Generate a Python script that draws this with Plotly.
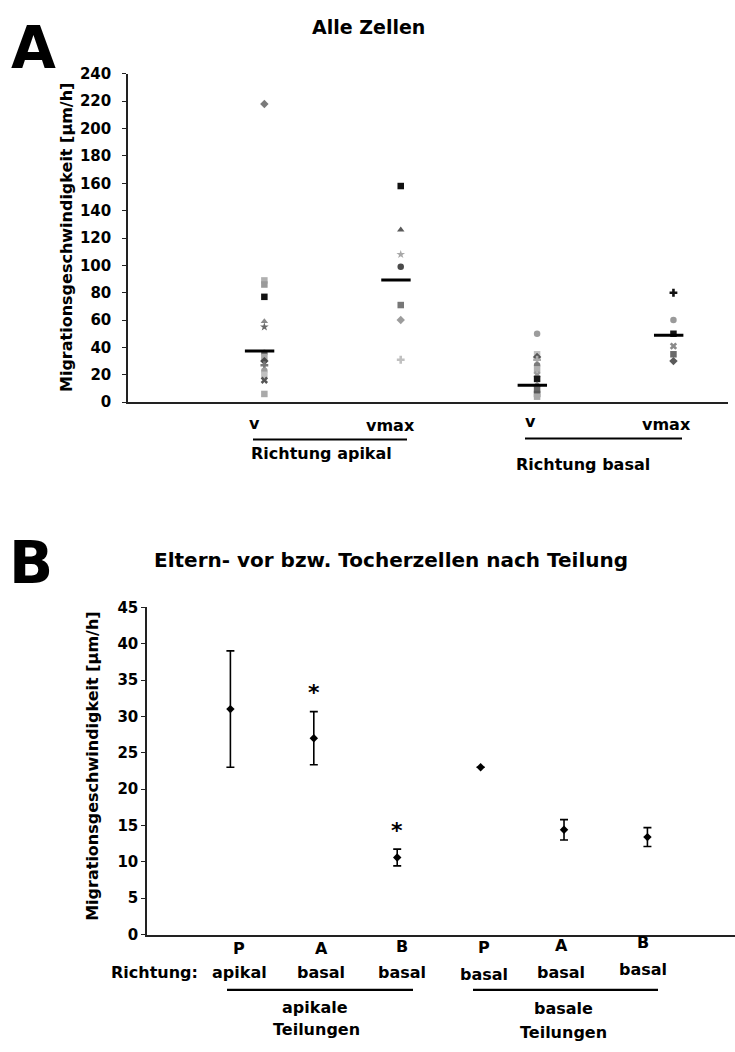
import plotly.graph_objects as go

# ---------------- data ----------------
# Panel A: "Alle Zellen"
a_groups = ["v apikal", "vmax apikal", "v basal", "vmax basal"]
a_v_apikal = [218, 89, 86, 77, 59, 55, 36, 33, 30, 27, 23, 20, 16, 6]
a_vmax_apikal = [158, 126, 108, 99, 71, 60, 31]
a_v_basal = [50, 35, 33, 31, 27, 24, 20, 17, 12, 9, 6, 4]
a_vmax_basal = [80, 60, 50, 41, 35, 30]
a_means = [37.4, 89.3, 12.4, 48.9]
a_ticks = [0, 20, 40, 60, 80, 100, 120, 140, 160, 180, 200, 220, 240]

# Panel B: "Eltern- vor bzw. Tocherzellen nach Teilung"
b_cells = ["P", "A", "B", "P", "A", "B"]
b_dirs = ["apikal", "basal", "basal", "basal", "basal", "basal"]
b_means = [31.0, 27.0, 10.6, 23.0, 14.4, 13.4]
b_err = [8.0, 3.65, 1.15, None, 1.4, 1.3]
b_signif = [False, True, True, False, False, False]
b_ticks = [0, 5, 10, 15, 20, 25, 30, 35, 40, 45]

# ---------------- styling ----------------
W, H = 735, 1052
FONT = "DejaVu Sans"


def px(x):
    return x / W


def py(y):
    return 1 - y / H


sym_cycle = ["diamond", "square", "square", "square", "triangle-up", "star",
             "circle", "square", "diamond", "cross", "circle", "square", "x", "square"]
col_cycle = ["#7a7a7a", "#b0b0b0", "#9a9a9a", "#151515", "#8a8a8a", "#6a6a6a",
             "#5a5a5a", "#a8a8a8", "#4a4a4a", "#777777", "#9c9c9c", "#c0c0c0", "#555555", "#aaaaaa"]

fig = go.Figure()

a_series = [a_v_apikal, a_vmax_apikal, a_v_basal, a_vmax_basal]
for gi, vals in enumerate(a_series):
    n = len(vals)
    fig.add_trace(go.Scatter(
        x=[gi + 1] * n, y=vals, mode="markers",
        marker=dict(symbol=[sym_cycle[(i + gi * 3) % len(sym_cycle)] for i in range(n)],
                    color=[col_cycle[(i + gi * 5) % len(col_cycle)] if vals[i] not in (77, 80, 158) else "#111111"
                           for i in range(n)],
                    size=6.5, line=dict(width=0)),
        xaxis="x", yaxis="y", showlegend=False, cliponaxis=False,
    ))

# mean dashes
fig.add_trace(go.Scatter(
    x=[i + 1 - 0.035 for i in range(len(a_means))], y=a_means, mode="markers",
    marker=dict(symbol="line-ew", size=21, line=dict(width=3, color="black")),
    xaxis="x", yaxis="y", showlegend=False,
))

# panel B points with error bars
b_x = list(range(1, len(b_means) + 1))
fig.add_trace(go.Scatter(
    x=b_x, y=b_means, mode="markers",
    marker=dict(symbol="diamond", size=6.5, color="black"),
    error_y=dict(type="data", symmetric=True,
                 array=[e if e is not None else float("nan") for e in b_err],
                 color="black", thickness=1.6, width=4),
    xaxis="x2", yaxis="y2", showlegend=False,
))

annotations = []
# significance stars
for i, s in enumerate(b_signif):
    if s:
        annotations.append(dict(x=b_x[i], y=b_means[i] + (b_err[i] or 0) + 2.6, xref="x2", yref="y2",
                                text="*", showarrow=False, yanchor="middle",
                                font=dict(family=FONT, size=22, color="black", weight="bold")))


def txt(x, y, t, size, **kw):
    d = dict(x=px(x), y=py(y), xref="paper", yref="paper", text=t, showarrow=False,
             xanchor="center", yanchor="middle",
             font=dict(family=FONT, size=size, color="black", weight="bold"))
    d.update(kw)
    annotations.append(d)


# panel letters & titles
txt(33, 40, "A", 58)
txt(368, 18, "Alle Zellen", 19)
txt(31, 564, "B", 58)
txt(391, 561, "Eltern- vor bzw. Tocherzellen nach Teilung", 20)

# axis titles
txt(66, 233, "Migrationsgeschwindigkeit [µm/h]", 16, textangle=-90)
txt(93, 771, "Migrationsgeschwindigkeit [µm/h]", 16, textangle=-90)

# panel A category labels
txt(254, 422, "v", 16)
txt(390, 424, "vmax", 16)
txt(530, 420, "v", 16)
txt(666, 423, "vmax", 16)
txt(321, 452, "Richtung apikal", 16)
txt(583, 463, "Richtung basal", 16)

# panel B category labels
b_lab_x = [239, 321, 402, 484, 561, 643]
b_lab_y1 = [956, 956, 954, 955, 953, 950]
b_lab_y2 = [980, 980, 980, 982, 980, 977]
for i in range(len(b_cells)):
    txt(b_lab_x[i], b_lab_y1[i], b_cells[i], 16)
    txt(b_lab_x[i], b_lab_y2[i], b_dirs[i], 16)
txt(154, 980, "Richtung:", 16)
txt(315, 1016, "apikale", 16)
txt(316, 1038, "Teilungen", 16)
txt(563, 1017, "basale", 16)
txt(563, 1041, "Teilungen", 16)

shapes = []
for (x0, x1, y) in [(253, 407, 438), (525, 682, 437), (227, 413, 998), (473, 658, 998)]:
    shapes.append(dict(type="line", xref="paper", yref="paper",
                       x0=px(x0), x1=px(x1), y0=py(y), y1=py(y),
                       line=dict(color="black", width=2.2)))

axis_common = dict(showgrid=False, zeroline=False, showline=True, linecolor="#222222", linewidth=1.5)

fig.update_layout(
    width=W, height=H, margin=dict(l=0, r=0, t=0, b=0),
    paper_bgcolor="white", plot_bgcolor="white",
    font=dict(family=FONT, color="black"),
    xaxis=dict(domain=[px(128), px(728)], range=[0, 4.4], anchor="y",
               showticklabels=False, ticks="", **axis_common),
    yaxis=dict(domain=[py(400), py(66)], range=[0, 240], anchor="x",
               tickvals=a_ticks, ticks="outside", ticklen=4, tickwidth=1.2, tickcolor="#222222",
               ticklabelstandoff=8,
               tickfont=dict(family=FONT, size=15, color="black", weight="bold"), **axis_common),
    xaxis2=dict(domain=[px(147), 1.0], range=[0, 7.05], anchor="y2",
                showticklabels=False, ticks="", **axis_common),
    yaxis2=dict(domain=[py(941.7), py(608.7)], range=[0, 45], anchor="x2",
                tickvals=b_ticks, ticks="outside", ticklen=4, tickwidth=1.2, tickcolor="#222222",
                tickfont=dict(family=FONT, size=15, color="black", weight="bold"), **axis_common),
    annotations=annotations,
    shapes=shapes,
)

fig.write_html("out.html")
